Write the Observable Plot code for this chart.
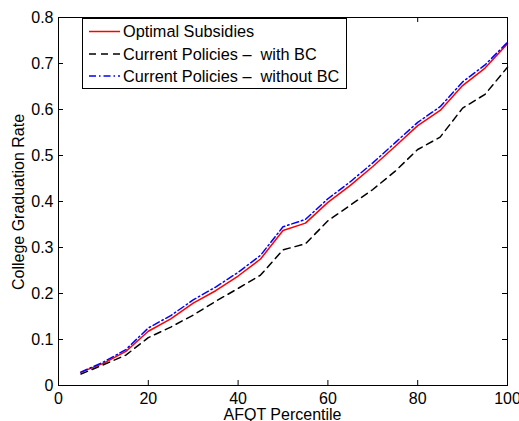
<!DOCTYPE html>
<html>
<head>
<meta charset="utf-8">
<script src="https://cdn.jsdelivr.net/npm/d3@7"></script>
<script src="https://cdn.jsdelivr.net/npm/@observablehq/plot@0.6"></script>
<style>
  html, body { margin: 0; padding: 0; background: #fff; }
  #chart svg { display: block; }
</style>
</head>
<body>
<div id="chart"></div>
<script>
// ---- data ----
const percentiles = [5, 10, 15, 20, 25, 30, 35, 40, 45, 50, 55, 60, 65, 70, 75, 80, 85, 90, 95, 100];
const optimal   = [0.029, 0.048, 0.074, 0.118, 0.145, 0.179, 0.206, 0.238, 0.275, 0.337, 0.353, 0.398, 0.435, 0.476, 0.520, 0.565, 0.598, 0.652, 0.690, 0.743];
const withBC    = [0.025, 0.045, 0.066, 0.104, 0.127, 0.153, 0.183, 0.211, 0.240, 0.295, 0.308, 0.358, 0.392, 0.426, 0.466, 0.513, 0.540, 0.603, 0.633, 0.692];
const withoutBC = [0.029, 0.051, 0.078, 0.125, 0.152, 0.186, 0.214, 0.246, 0.283, 0.345, 0.361, 0.406, 0.443, 0.484, 0.528, 0.572, 0.606, 0.660, 0.697, 0.746];
const seriesNames = ["Optimal Subsidies", "Current Policies \u2013  with BC", "Current Policies \u2013  without BC"];
const xTicks = [0, 20, 40, 60, 80, 100];
const yTicks = [0, 0.1, 0.2, 0.3, 0.4, 0.5, 0.6, 0.7, 0.8];
const xTitle = "AFQT Percentile";
const yTitle = "College Graduation Rate";

// ---- styles ----
const FONT = "'Liberation Sans', Arial, Helvetica, sans-serif";
const styles = [
  {stroke: "#ff0000", dash: null},
  {stroke: "#000000", dash: "7,5"},
  {stroke: "#0000ff", dash: "7,3,1.5,3"}
];
const W = 519, H = 421, mL = 58, mR = 12, mT = 17, mB = 36;
const pw = W - mL - mR, ph = H - mT - mB, tick = 5;

const table = [optimal, withBC, withoutBC].flatMap((vals, s) =>
  percentiles.map((p, i) => ({p, v: vals[i], s: seriesNames[s]})));

const lineMarks = seriesNames.map((name, s) =>
  Plot.line(table.filter(d => d.s === name), {
    x: "p", y: "v",
    stroke: styles[s].stroke,
    strokeWidth: 1.5,
    strokeDasharray: styles[s].dash,
    strokeLinejoin: "round"
  }));

const chart = Plot.plot({
  width: W, height: H,
  marginLeft: mL, marginRight: mR, marginTop: mT, marginBottom: mB,
  style: {fontFamily: FONT, fontSize: "16px", color: "#000", background: "#fff"},
  x: {domain: [0, 100]},
  y: {domain: [0, 0.8]},
  marks: [
    ...lineMarks,
    // inward ticks on all four sides
    Plot.ruleY(yTicks, {y: d => d, insetRight: pw - tick, stroke: "#000"}),
    Plot.ruleY(yTicks, {y: d => d, insetLeft: pw - tick, stroke: "#000"}),
    Plot.ruleX(xTicks, {x: d => d, insetTop: ph - tick, stroke: "#000"}),
    Plot.ruleX(xTicks, {x: d => d, insetBottom: ph - tick, stroke: "#000"}),
    Plot.axisX({ticks: xTicks, tickSize: 0, tickPadding: 7, label: null, fontSize: 16, tickFormat: d => String(d)}),
    Plot.axisY({ticks: yTicks, tickSize: 0, tickPadding: 5, label: null, fontSize: 16, tickFormat: d => String(+d.toFixed(1))}),
    Plot.frame({stroke: "#000", strokeWidth: 1})
  ]
});
document.getElementById("chart").appendChild(chart);

// ---- axis titles & legend (overlay in the same svg) ----
const svg = d3.select(chart);
svg.append("text")
  .attr("x", mL + pw / 2).attr("y", 419.5)
  .attr("text-anchor", "middle")
  .style("font-family", FONT).style("font-size", "16px").attr("fill", "#000")
  .text(xTitle);
svg.append("text")
  .attr("transform", "translate(24,202) rotate(-90)")
  .attr("text-anchor", "middle")
  .style("font-family", FONT).style("font-size", "16px").attr("fill", "#000")
  .text(yTitle);

const lg = svg.append("g").attr("text-anchor", "start");
lg.append("rect")
  .attr("x", 82.5).attr("y", 18.5).attr("width", 264).attr("height", 70)
  .attr("fill", "#fff").attr("stroke", "#000").attr("stroke-width", 1);
const rowsY = [31.5, 54, 76];
seriesNames.forEach((name, s) => {
  lg.append("line")
    .attr("x1", 89).attr("x2", 120).attr("y1", rowsY[s]).attr("y2", rowsY[s])
    .attr("stroke", styles[s].stroke).attr("stroke-width", 1.5)
    .attr("stroke-dasharray", styles[s].dash);
  lg.append("text")
    .attr("x", 123).attr("y", rowsY[s] + 5.8)
    .attr("text-anchor", "start")
    .style("font-family", FONT).style("font-size", "16.3px").style("white-space", "pre")
    .attr("fill", "#000")
    .text(name);
});
</script>
</body>
</html>
